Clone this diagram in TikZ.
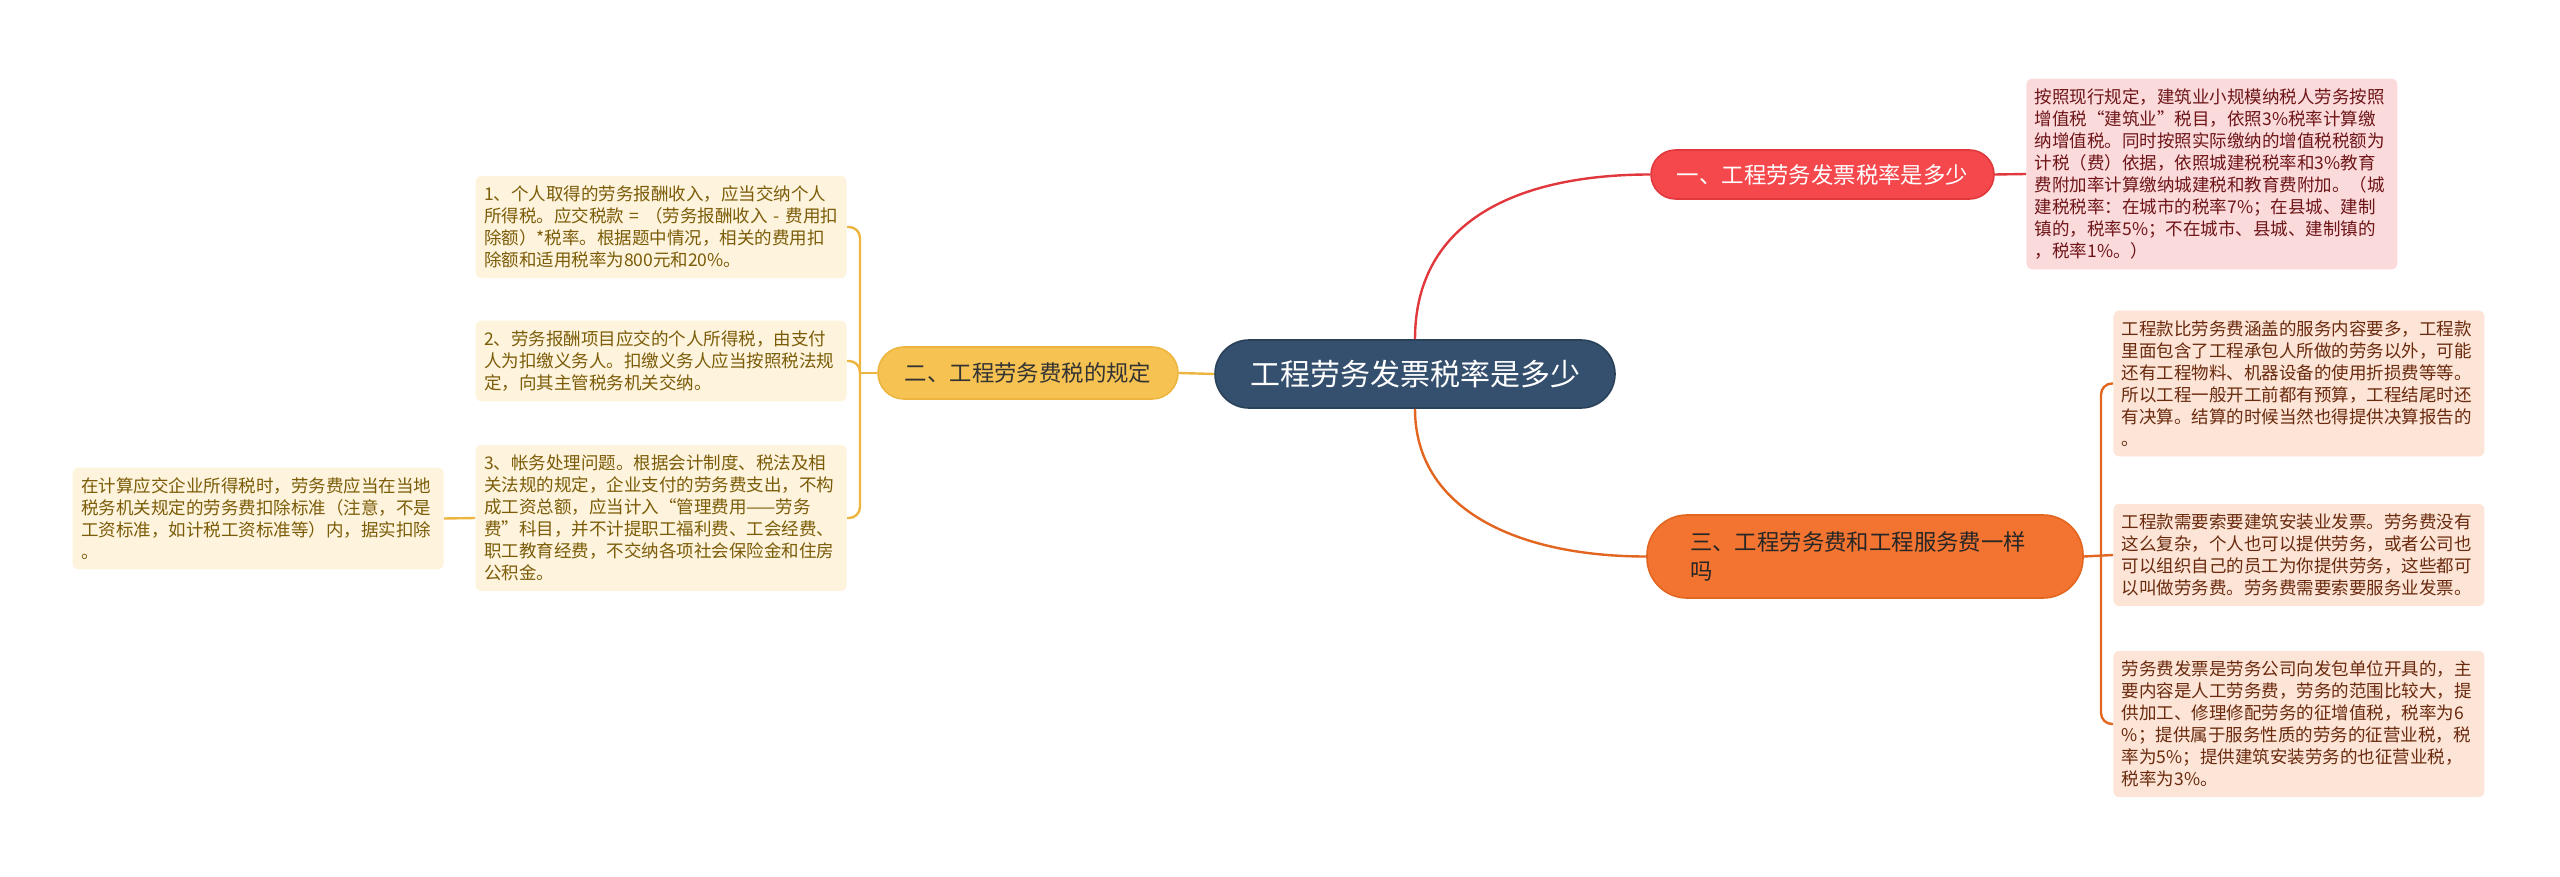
\documentclass[tikz,border=0pt]{standalone}
\usepackage{fontspec}
\setmainfont{Noto Sans CJK SC}
\definecolor{hubblue}{HTML}{35506E}
\definecolor{hubedge}{HTML}{2A415A}
\definecolor{redtopic}{HTML}{F5484C}
\definecolor{rededge}{HTML}{E0383D}
\definecolor{redleaf}{HTML}{FBDADB}
\definecolor{redtext}{HTML}{6E1518}
\definecolor{yeltopic}{HTML}{F6C352}
\definecolor{yeledge}{HTML}{EDB540}
\definecolor{yelleaf}{HTML}{FEF3DC}
\definecolor{yeltext}{HTML}{7B5C08}
\definecolor{ortopic}{HTML}{F27430}
\definecolor{oredge}{HTML}{E2661F}
\definecolor{orleaf}{HTML}{FCE4D6}
\definecolor{ortext}{HTML}{6A2A0E}
\tikzset{
  hub/.style={draw=hubedge, line width=0.8pt, fill=hubblue, text=white, rounded corners=17pt,
    minimum width=200pt, minimum height=34pt, inner sep=0pt, font=\fontsize{15}{18}\selectfont},
  topic/.style={line width=0.8pt, inner sep=0pt, font=\fontsize{11.2}{14.5}\selectfont},
  leaf/.style={rounded corners=3pt, text width=177pt, inner xsep=4.25pt, inner ysep=5pt,
    align=left, font=\fontsize{8.75}{11}\selectfont},
  link/.style={line width=1.2pt},
}
\begin{document}
\begin{tikzpicture}[x=0.5pt, y=-0.5pt]
	\useasboundingbox (0,0) rectangle (2560,877);
	\node[hub] (main) at (1415,374) {工程劳务发票税率是多少};
	% topics
	\node[topic, draw=rededge, fill=redtopic, text=white, rounded corners=12.25pt,
		minimum width=171.5pt, minimum height=24.5pt] (one) at (1822.5,174.5) {一、工程劳务发票税率是多少};
	\node[topic, draw=yeledge, fill=yeltopic, text=black!80, rounded corners=13pt,
		minimum width=150pt, minimum height=26pt] (two) at (1028,373) {二、工程劳务费税的规定};
	\node[topic, draw=oredge, fill=ortopic, text=black!85, rounded corners=20pt,
		minimum width=218pt, minimum height=41.5pt, text width=175pt, inner xsep=21.5pt, align=left]
		(three) at (1865,556.5) {三、工程劳务费和工程服务费一样\\吗};
	% leaves
	\node[leaf, fill=redleaf, text=redtext, anchor=west] (rleaf) at (2026,174) {按照现行规定，建筑业小规模纳税人劳务按照\\
		增值税“建筑业”税目，依照3\%税率计算缴\\
		纳增值税。同时按照实际缴纳的增值税税额为\\
		计税（费）依据，依照城建税税率和3\%教育\\
		费附加率计算缴纳城建税和教育费附加。（城\\
		建税税率：在城市的税率7\%；在县城、建制\\
		镇的，税率5\%；不在城市、县城、建制镇的\\
		，税率1\%。）};
	\node[leaf, fill=orleaf, text=ortext, anchor=west] (oa) at (2113,383.5) {工程款比劳务费涵盖的服务内容要多，工程款\\
		里面包含了工程承包人所做的劳务以外，可能\\
		还有工程物料、机器设备的使用折损费等等。\\
		所以工程一般开工前都有预算，工程结尾时还\\
		有决算。结算的时候当然也得提供决算报告的\\
		。};
	\node[leaf, fill=orleaf, text=ortext, anchor=west] (ob) at (2113,555) {工程款需要索要建筑安装业发票。劳务费没有\\
		这么复杂，个人也可以提供劳务，或者公司也\\
		可以组织自己的员工为你提供劳务，这些都可\\
		以叫做劳务费。劳务费需要索要服务业发票。};
	\node[leaf, fill=orleaf, text=ortext, anchor=west] (oc) at (2113,724) {劳务费发票是劳务公司向发包单位开具的，主\\
		要内容是人工劳务费，劳务的范围比较大，提\\
		供加工、修理修配劳务的征增值税，税率为6\\
		\%；提供属于服务性质的劳务的征营业税，税\\
		率为5\%；提供建筑安装劳务的也征营业税，\\
		税率为3\%。};
	\node[leaf, fill=yelleaf, text=yeltext, anchor=east] (ya) at (847,227) {1、个人取得的劳务报酬收入，应当交纳个人\\
		\mbox{所得税。应交税款 = （劳务报酬收入 - 费用扣}\\
		除额）*税率。根据题中情况，相关的费用扣\\
		除额和适用税率为800元和20\%。};
	\node[leaf, fill=yelleaf, text=yeltext, anchor=east] (yb) at (847,361) {2、劳务报酬项目应交的个人所得税，由支付\\
		人为扣缴义务人。扣缴义务人应当按照税法规\\
		定，向其主管税务机关交纳。};
	\node[leaf, fill=yelleaf, text=yeltext, anchor=east] (yc) at (847,518) {3、帐务处理问题。根据会计制度、税法及相\\
		关法规的规定，企业支付的劳务费支出，不构\\
		成工资总额，应当计入“管理费用——劳务\\
		费”科目，并不计提职工福利费、工会经费、\\
		职工教育经费，不交纳各项社会保险金和住房\\
		公积金。};
	\node[leaf, fill=yelleaf, text=yeltext, anchor=east] (yd) at (444,518.5) {在计算应交企业所得税时，劳务费应当在当地\\
		税务机关规定的劳务费扣除标准（注意，不是\\
		工资标准，如计税工资标准等）内，据实扣除\\
		。};
	% connectors
	\coordinate (ojoin) at (2101,556.5);
	\coordinate (yjoin) at (860,373);
	\draw[link, rededge] (main.north) .. controls +(0,-120) and +(-130,0) .. (one.west);
	\draw[link, rededge] (one.east) -- (rleaf.west);
	\draw[link, yeledge] (main.west) -- (two.east);
	\draw[link, yeledge] (two.west) -- (yjoin);
	\draw[link, yeledge, rounded corners=5.5pt] (yjoin) |- (ya.east);
	\draw[link, yeledge, rounded corners=5.5pt] (yjoin) |- (yb.east);
	\draw[link, yeledge, rounded corners=5.5pt] (yjoin) |- (yc.east);
	\draw[link, yeledge] (yc.west) -- (yd.east);
	\draw[link, oredge] (main.south) .. controls +(0,100) and +(-130,0) .. (three.west);
	\draw[link, oredge] (three.east) -- (ob.west);
	\draw[link, oredge, rounded corners=5.5pt] (ojoin) |- (oa.west);
	\draw[link, oredge, rounded corners=5.5pt] (ojoin) |- (oc.west);
\end{tikzpicture}
\end{document}
